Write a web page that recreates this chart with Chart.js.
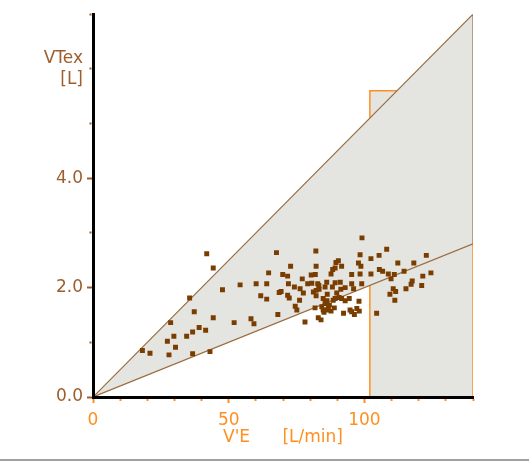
<!DOCTYPE html>
<html>
<head>
<meta charset="utf-8">
<script src="https://cdn.jsdelivr.net/npm/chart.js@4.4.1/dist/chart.umd.min.js"></script>
<style>
  body { margin: 0; background: #fff; }
  canvas { display: block; }
</style>
</head>
<body>
<canvas id="vtchart" width="529" height="469"></canvas>
<script>
// breath-by-breath ventilation (L/min) against tidal volume (L)
var veValues = [
  18.2, 21.0, 27.4, 28.0, 28.6, 29.8, 30.4, 34.5, 36.7, 36.7,
  39.1, 41.5, 43.1, 44.3, 35.6, 37.3, 41.9, 44.3, 47.7, 52.0,
  54.2, 58.2, 59.3, 60.1, 61.8, 64.0, 64.0, 64.7, 67.6, 68.1,
  68.6, 69.3, 69.9, 71.7, 72.0, 71.7, 72.3, 72.8, 74.2, 76.1,
  76.3, 74.5, 75.1, 77.1, 77.5, 78.1, 79.1, 80.4, 80.6, 81.2,
  82.1, 82.2, 81.9, 82.2, 82.2, 81.8, 82.8, 83.2, 83.0, 83.3,
  84.0, 84.3, 84.8, 84.8, 85.1, 85.5, 85.5, 86.1, 86.2, 86.3,
  86.3, 86.7, 87.1, 87.7, 87.7, 88.2, 88.3, 88.5, 88.9, 89.2,
  89.2, 89.2, 89.8, 89.5, 90.4, 90.7, 91.1, 91.3, 91.6, 91.6,
  92.3, 92.9, 92.9, 94.4, 94.7, 95.3, 95.3, 95.3, 96.0, 96.3,
  97.2, 97.8, 98.0, 98.1, 98.4, 98.4, 98.7, 99.0, 99.1, 102.4,
  102.4, 104.5, 105.4, 105.5, 106.7, 108.2, 108.8, 109.8, 109.4, 110.6,
  111.0, 111.5, 111.2, 112.3, 114.6, 115.3, 117.2, 117.6, 118.2, 121.1,
  121.5, 122.8, 124.5
];
var vtValues = [
  0.85, 0.80, 1.02, 0.77, 1.36, 1.11, 0.91, 1.11, 1.19, 0.79,
  1.27, 1.22, 0.83, 1.45, 1.81, 1.56, 2.62, 2.36, 1.96, 1.36,
  2.05, 1.43, 1.34, 2.07, 1.85, 2.07, 1.79, 2.27, 2.64, 1.51,
  1.91, 1.93, 2.24, 2.21, 2.07, 1.86, 1.81, 2.39, 2.01, 1.77,
  1.98, 1.66, 1.59, 2.16, 1.90, 1.37, 2.07, 2.23, 2.08, 1.92,
  2.67, 2.39, 2.24, 1.95, 1.85, 1.63, 2.07, 2.04, 1.45, 1.97,
  1.41, 1.65, 1.80, 1.59, 1.55, 2.01, 1.71, 2.10, 1.76, 1.88,
  1.59, 1.62, 1.68, 2.25, 1.57, 2.01, 2.33, 1.77, 1.63, 2.36,
  2.09, 1.80, 1.90, 2.46, 2.49, 1.82, 2.10, 1.97, 2.39, 1.80,
  1.53, 2.00, 1.76, 1.80, 1.59, 2.24, 2.07, 1.56, 1.98, 1.51,
  1.62, 2.45, 1.75, 1.57, 2.60, 2.25, 2.39, 2.07, 2.91, 2.53,
  2.25, 1.53, 2.59, 2.33, 2.30, 2.70, 2.25, 2.16, 1.88, 1.98,
  2.24, 1.93, 1.77, 2.45, 2.30, 1.98, 2.06, 2.12, 2.45, 2.04,
  2.21, 2.59, 2.27
];

// wedge of expected VT between two slopes, and the high-VE box
var xRange = [0, 140];
var upperLimit = [0, 7];
var lowerLimit = [0, 2.8];
var boxX = [102, 140];
var boxTop = 5.6;

// axis labelling
var xLabels = [0, 50, 100];
var yLabels = [0, 2, 4];
var yTitle = ["VTex", "[L]"];
var yTitleAt = 6;
var xTitle = "V'E      [L/min]";

var brown = "#9e5e2c";
var orange = "#ff8f20";
var lineBrown = "#9c6c40";
var wedgeGrey = "#e4e4e0";
var dotBrown = "#7a3d00";
var labelFont = { family: "DejaVu Sans", size: 17 };

var points = veValues.map(function (v, i) {
  return { x: v, y: vtValues[i] };
});

// thin grey rule along the bottom of the panel
var frameLine = {
  id: "frameLine",
  afterDraw: function (chart) {
    var c = chart.ctx;
    c.save();
    c.strokeStyle = "#a0a0a0";
    c.lineWidth = 2;
    c.beginPath();
    c.moveTo(0, 460);
    c.lineTo(chart.width, 460);
    c.stroke();
    c.restore();
  }
};

var ctx = document.getElementById("vtchart").getContext("2d");
var vtChart = new Chart(ctx, {
  type: "line",
  data: {
    datasets: [
      {
        label: "breaths",
        data: points,
        order: 0,
        showLine: false,
        pointStyle: "rect",
        pointRadius: 3.5,
        pointBorderWidth: 0,
        pointBackgroundColor: dotBrown
      },
      {
        label: "lower",
        data: [
          { x: xRange[0], y: lowerLimit[0] },
          { x: xRange[1], y: lowerLimit[1] }
        ],
        order: 1,
        borderColor: lineBrown,
        borderWidth: 1.2,
        pointRadius: 0,
        fill: false
      },
      {
        label: "upper",
        data: [
          { x: xRange[0], y: upperLimit[0] },
          { x: xRange[1], y: upperLimit[1] },
          { x: xRange[1], y: lowerLimit[1] }
        ],
        order: 1,
        borderColor: lineBrown,
        borderWidth: 1.2,
        backgroundColor: wedgeGrey,
        pointRadius: 0,
        fill: "-1"
      },
      {
        label: "box",
        data: [
          { x: boxX[0], y: 0 },
          { x: boxX[0], y: boxTop },
          { x: boxX[1], y: boxTop },
          { x: boxX[1], y: 0 }
        ],
        order: 2,
        borderColor: orange,
        borderWidth: 1.5,
        backgroundColor: wedgeGrey,
        pointRadius: 0,
        fill: "origin"
      }
    ]
  },
  options: {
    responsive: false,
    devicePixelRatio: 1,
    animation: false,
    layout: { padding: { top: 12, right: 56, bottom: 0, left: 0 } },
    elements: { line: { tension: 0 } },
    plugins: {
      legend: { display: false },
      tooltip: { enabled: false }
    },
    scales: {
      x: {
        type: "linear",
        min: xRange[0],
        max: xRange[1],
        afterFit: function (scale) {
          scale.height = 72;
        },
        border: { color: "#000", width: 3, z: 1 },
        grid: {
          drawOnChartArea: false,
          tickLength: 6,
          tickWidth: 2,
          tickColor: orange,
          tickBorderDash: function (c) {
            return xLabels.indexOf(c.tick.value) >= 0 ? [] : [2, 20];
          }
        },
        ticks: {
          stepSize: 10,
          autoSkip: false,
          maxRotation: 0,
          padding: 7,
          color: orange,
          font: labelFont,
          callback: function (v) {
            return xLabels.indexOf(v) >= 0 ? String(v) : "";
          }
        },
        title: {
          display: true,
          text: xTitle,
          color: orange,
          font: labelFont,
          padding: { top: 0, bottom: 21 }
        }
      },
      y: {
        type: "linear",
        min: 0,
        max: 7,
        afterFit: function (scale) {
          scale.width = 93;
        },
        border: { color: "#000", width: 3, z: 1 },
        grid: {
          drawOnChartArea: false,
          tickLength: 6,
          tickWidth: 2,
          tickColor: brown,
          tickBorderDash: function (c) {
            return yLabels.indexOf(c.tick.value) >= 0 ? [] : [2, 10];
          },
          tickBorderDashOffset: function (c) {
            return yLabels.indexOf(c.tick.value) >= 0 ? 0 : 9.5;
          }
        },
        ticks: {
          stepSize: 1,
          autoSkip: false,
          padding: 4,
          color: brown,
          font: labelFont,
          callback: function (v) {
            if (v === yTitleAt) return yTitle;
            return yLabels.indexOf(v) >= 0 ? v.toFixed(1) : "";
          }
        }
      }
    }
  },
  plugins: [frameLine]
});
</script>
</body>
</html>
